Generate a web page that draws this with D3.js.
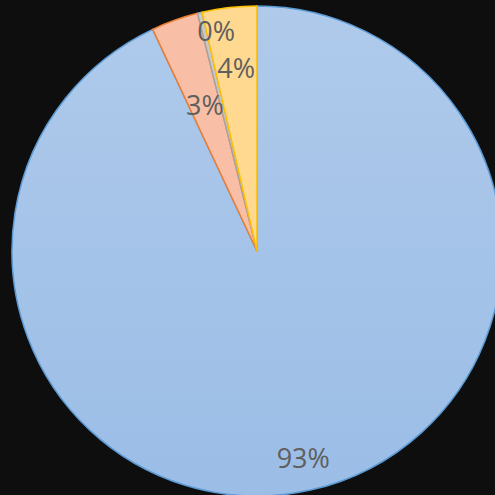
<!DOCTYPE html>
<meta charset="utf-8">
<script src="https://cdn.jsdelivr.net/npm/d3@7"></script>
<style>
body { margin: 0; background: #0e0e0e; }
text { font-family: "Open Sans", sans-serif; }
</style>
<body>
<script>

// slice data (clockwise from 12 o'clock)
var categories = ["A", "B", "C", "D"];
var values = [93.0, 3.1, 0.3, 3.6];
var labels = ["93%", "3%", "0%", "4%"];

var fills = ["url(#blueGrad)", "#f8bfa6", "#c9c9c9", "#ffd98f"];
var strokes = ["#5b9bd5", "#ed7d31", "#a5a5a5", "#ffc000"];

var width = 495,
    height = 495,
    cx = 257,
    cy = 251,
    radius = 245;

var svg = d3.select("body").append("svg")
    .attr("width", width)
    .attr("height", height);

svg.append("rect")
    .attr("width", width)
    .attr("height", height)
    .attr("fill", "#0e0e0e");

var grad = svg.append("defs").append("linearGradient")
    .attr("id", "blueGrad")
    .attr("gradientUnits", "userSpaceOnUse")
    .attr("x1", 0).attr("y1", -radius)
    .attr("x2", 0).attr("y2", radius);
grad.append("stop").attr("offset", "0%").attr("stop-color", "#afcaeb");
grad.append("stop").attr("offset", "100%").attr("stop-color", "#9bbde6");

var pie = d3.pie().sort(null).value(function(d) { return d; });
var arcs = pie(values);

var arc = d3.arc().innerRadius(0).outerRadius(radius);

var g = svg.append("g")
    .attr("transform", "translate(" + cx + "," + cy + ")");

g.selectAll("path")
    .data(arcs)
    .enter().append("path")
    .attr("d", arc)
    .attr("fill", function(d, i) { return fills[i]; })
    .attr("stroke", function(d, i) { return strokes[i]; })
    .attr("stroke-width", 1.5)
    .attr("stroke-linejoin", "round");

// label distance from centre, best-fit like the original
var labelR = [212, 155, 226, 184];
var labelDx = [0, 0, 12, 0];

g.selectAll("text.lbl")
    .data(arcs)
    .enter().append("text")
    .attr("class", "lbl")
    .attr("x", function(d, i) {
        var a = (d.startAngle + d.endAngle) / 2;
        return Math.sin(a) * labelR[i] + labelDx[i];
    })
    .attr("y", function(d, i) {
        var a = (d.startAngle + d.endAngle) / 2;
        return -Math.cos(a) * labelR[i];
    })
    .attr("dy", "0.36em")
    .attr("text-anchor", "middle")
    .attr("fill", "#5f5f5f")
    .style("font-size", "27px")
    .text(function(d, i) { return labels[i]; });

</script>
</body>
</html>
